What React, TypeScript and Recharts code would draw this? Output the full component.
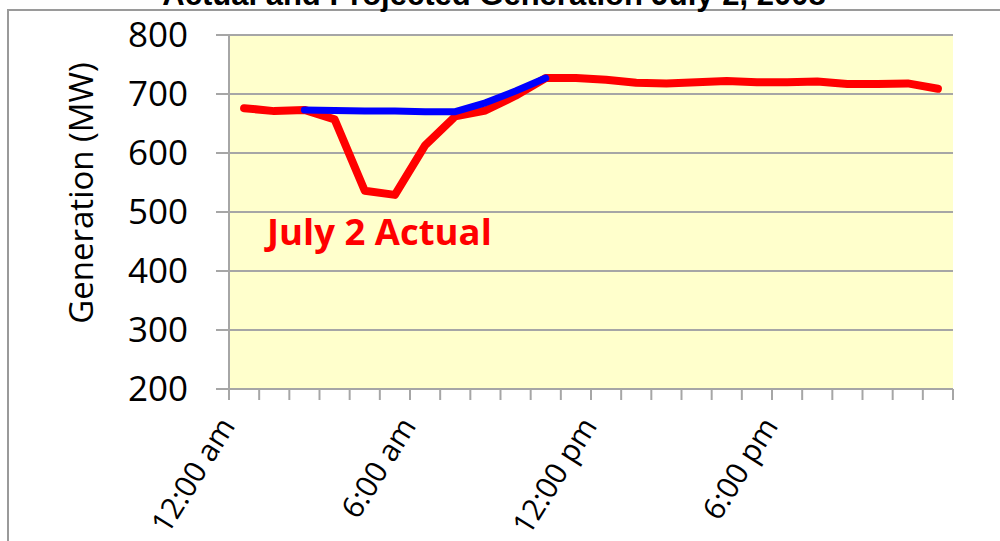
import { LineChart, Line, XAxis, YAxis, CartesianGrid } from "recharts";

// hourly points, plotted in the middle of each hour slot
const HOURS = [0, 1, 2, 3, 4, 5, 6, 7, 8, 9, 10, 11, 12, 13, 14, 15, 16, 17, 18, 19, 20, 21, 22, 23];
const ACTUAL = [676, 671, 673, 657, 536, 529, 613, 662, 672, 697, 727, 727, 724, 719, 718, 720, 722, 720, 720, 721, 717, 717, 718, 709];
const PROJECTED = [null, null, 673, 672, 671, 671, 670, 670, 685, 705, 727, null, null, null, null, null, null, null, null, null, null, null, null, null];
const X_TICKS = [0, 1, 2, 3, 4, 5, 6, 7, 8, 9, 10, 11, 12, 13, 14, 15, 16, 17, 18, 19, 20, 21, 22, 23, 24];
const X_LABELS: Record<number, string> = { 0: "12:00 am", 6: "6:00 am", 12: "12:00 pm", 18: "6:00 pm" };
const Y_TICKS = [200, 300, 400, 500, 600, 700, 800];

const rows = HOURS.map((h, i) => ({ x: h + 0.5, actual: ACTUAL[i], projected: PROJECTED[i] }));

const GRAY = "#A6A6A6";
const FONT = "'Open Sans', sans-serif";

function HourTick(props: any) {
  const { x, y, payload } = props;
  const label = X_LABELS[payload.value];
  if (!label) return null;
  const ax = x + 7;
  const ay = y + 24;
  return (
    <text x={ax} y={ay} textAnchor="end" fontFamily={FONT} fontSize={30} fill="#000"
      transform={`rotate(-58, ${ax}, ${ay})`}>
      {label}
    </text>
  );
}

export default function App() {
  return (
    <div style={{ position: "absolute", left: 0, top: 0, width: 1000, height: 541, background: "#fff", overflow: "hidden" }}>
      <svg width={1000} height={541} style={{ position: "absolute", left: 0, top: 0 }}>
        <rect x={8} y={10} width={1100} height={600} fill="none" stroke="#9A9A9A" strokeWidth={2} />
        <text x={494} y={5} textAnchor="middle" fontFamily="'Liberation Sans', Arial, sans-serif"
          fontWeight="bold" fontSize={31} fill="#000">
          Actual and Projected Generation July 2, 2008
        </text>
        <text x={80} y={193} textAnchor="middle" dominantBaseline="central" fontFamily={FONT} fontSize={33}
          fill="#000" transform="rotate(-90, 80, 193)">
          Generation (MW)
        </text>
      </svg>
      <div style={{ position: "absolute", left: 0, top: 0 }}>
        <LineChart width={1000} height={541} data={rows} margin={{ top: 35, right: 47, bottom: 52, left: 169 }}>
          <CartesianGrid vertical={false} stroke={GRAY} strokeWidth={2} fill="#FFFFCC" fillOpacity={1} />
          <XAxis dataKey="x" type="number" domain={[0, 24]} ticks={X_TICKS} interval={0} height={100}
            axisLine={{ stroke: GRAY, strokeWidth: 2 }} tickLine={{ stroke: GRAY, strokeWidth: 2 }}
            tickSize={11} tick={<HourTick />} />
          <YAxis type="number" domain={[200, 800]} ticks={Y_TICKS} interval={0} width={60}
            axisLine={{ stroke: GRAY, strokeWidth: 2 }} tickLine={{ stroke: GRAY, strokeWidth: 2 }}
            tickSize={13} tickMargin={28}
            tick={{ fontFamily: FONT, fontSize: 35, fill: "#000" }} />
          <Line dataKey="actual" stroke="#FF0000" strokeWidth={8} dot={false} isAnimationActive={false}
            strokeLinejoin="round" strokeLinecap="round" />
          <Line dataKey="projected" stroke="#0000FF" strokeWidth={7} dot={false} isAnimationActive={false}
            strokeLinejoin="round" strokeLinecap="round" />
        </LineChart>
      </div>
      <svg width={1000} height={541} style={{ position: "absolute", left: 0, top: 0, pointerEvents: "none" }}>
        <text x={267} y={245} fontFamily={FONT} fontWeight="bold" fontSize={36.5} fill="#FF0000">
          July 2 Actual
        </text>
      </svg>
    </div>
  );
}
